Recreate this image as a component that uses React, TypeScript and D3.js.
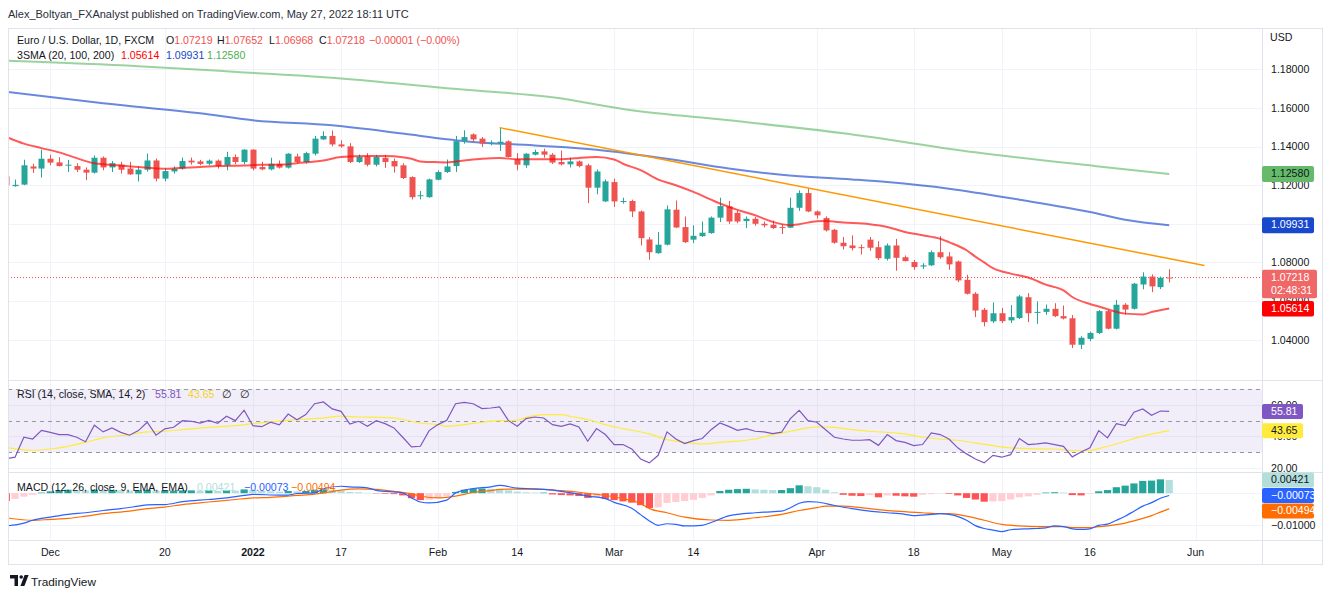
import React from "react";
import * as d3 from "d3";

// ---------- DATA ----------
const FIRST_T = -5; // bar index of first candle (0 = Dec 1, 2021)
const OPEN = [
  1.1246, 1.1195, 1.1203, 1.1297, 1.1286,
  1.1337, 1.1318, 1.1303, 1.1299, 1.1280, 1.1265, 1.1342, 1.1292, 1.1306, 1.1286,
  1.1256, 1.1280, 1.1328, 1.1234, 1.1271, 1.1286, 1.1327, 1.1323, 1.1311, 1.1327,
  1.1303, 1.1346, 1.1320, 1.1384, 1.1294, 1.1282, 1.1311, 1.1291, 1.1349, 1.1320,
  1.1363, 1.1437, 1.1455, 1.1411, 1.1401, 1.1320, 1.1349, 1.1306, 1.1342, 1.1325,
  1.1303, 1.1242, 1.1146, 1.1138, 1.1228, 1.1268, 1.1299, 1.1429, 1.1463, 1.1441,
  1.1415, 1.1415, 1.1427, 1.1334, 1.1303, 1.1358, 1.1375, 1.1358, 1.1320, 1.1308,
  1.1323, 1.1303, 1.1187, 1.1116, 1.1216, 1.1116, 1.1118, 1.1064, 1.0919, 1.0848,
  1.0892, 1.1073, 1.0983, 1.0918, 1.0936, 1.0952, 1.1032, 1.1090, 1.1057, 1.1014,
  1.1026, 1.1000, 1.0995, 1.0983, 1.0980, 1.1083, 1.1159, 1.1064, 1.1030, 1.0969,
  1.0902, 1.0888, 1.0879, 1.0918, 1.0879, 1.0819, 1.0888, 1.0827, 1.0802, 1.0779,
  1.0785, 1.0853, 1.0831, 1.0805, 1.0710, 1.0638, 1.0555, 1.0495, 1.0537, 1.0500,
  1.0512, 1.0620, 1.0540, 1.0544, 1.0560, 1.0522, 1.0511, 1.0374, 1.0404, 1.0435,
  1.0548, 1.0457, 1.0581, 1.0560, 1.0686, 1.0727, 1.0672, 1.07219,
];
const HIGH = [
  1.1252, 1.1229, 1.1332, 1.1311, 1.1384,
  1.1358, 1.1345, 1.1331, 1.1314, 1.1292, 1.1354, 1.1349, 1.1325, 1.1321, 1.1321,
  1.1297, 1.1364, 1.1338, 1.1287, 1.1297, 1.1343, 1.1343, 1.1331, 1.1333, 1.1333,
  1.1373, 1.1359, 1.1386, 1.1386, 1.1321, 1.1342, 1.1328, 1.1366, 1.1363, 1.1373,
  1.1455, 1.1479, 1.1484, 1.1432, 1.1418, 1.1359, 1.1366, 1.1357, 1.1357, 1.1338,
  1.1314, 1.1246, 1.1170, 1.1234, 1.1277, 1.1333, 1.1455, 1.1484, 1.1468, 1.1449,
  1.1432, 1.1498, 1.1432, 1.1366, 1.1366, 1.1384, 1.1389, 1.1366, 1.1379, 1.1344,
  1.1328, 1.1311, 1.1281, 1.1230, 1.1234, 1.1135, 1.1125, 1.1069, 1.0931, 1.0957,
  1.1095, 1.1121, 1.1038, 1.0992, 1.1012, 1.1038, 1.1135, 1.1118, 1.1069, 1.1038,
  1.1035, 1.1012, 1.1017, 1.0997, 1.1135, 1.1173, 1.1185, 1.1069, 1.1038, 1.0974,
  1.0932, 1.0940, 1.0893, 1.0932, 1.0910, 1.0898, 1.0922, 1.0836, 1.0813, 1.0796,
  1.0862, 1.0936, 1.0853, 1.0810, 1.0736, 1.0646, 1.0564, 1.0593, 1.0565, 1.0579,
  1.0632, 1.0641, 1.0598, 1.0582, 1.0589, 1.0577, 1.0528, 1.0418, 1.0442, 1.0553,
  1.0555, 1.0606, 1.0589, 1.0694, 1.0749, 1.0738, 1.0727, 1.07652,
];
const LOW = [
  1.1190, 1.1192, 1.1200, 1.1263, 1.1239,
  1.1303, 1.1297, 1.1268, 1.1268, 1.1226, 1.1260, 1.1277, 1.1268, 1.1260, 1.1254,
  1.1219, 1.1270, 1.1220, 1.1220, 1.1260, 1.1280, 1.1306, 1.1303, 1.1303, 1.1286,
  1.1277, 1.1308, 1.1308, 1.1277, 1.1277, 1.1277, 1.1286, 1.1286, 1.1312, 1.1312,
  1.1354, 1.1435, 1.1401, 1.1394, 1.1315, 1.1315, 1.1297, 1.1297, 1.1290, 1.1265,
  1.1232, 1.1126, 1.1126, 1.1135, 1.1225, 1.1263, 1.1268, 1.1415, 1.1422, 1.1398,
  1.1406, 1.1377, 1.1343, 1.1277, 1.1290, 1.1354, 1.1342, 1.1310, 1.1303, 1.1292,
  1.1292, 1.1107, 1.1153, 1.1113, 1.1087, 1.1104, 1.1035, 1.0888, 1.0814, 1.0845,
  1.0888, 1.0978, 1.0900, 1.0900, 1.0932, 1.0948, 1.1009, 1.1000, 1.1003, 1.0978,
  1.0990, 1.0981, 1.0974, 1.0947, 1.0978, 1.1067, 1.1060, 1.1027, 1.0960, 1.0897,
  1.0867, 1.0862, 1.0841, 1.0860, 1.0813, 1.0810, 1.0757, 1.0806, 1.0762, 1.0766,
  1.0781, 1.0819, 1.0762, 1.0698, 1.0634, 1.0517, 1.0469, 1.0486, 1.0486, 1.0487,
  1.0507, 1.0491, 1.0482, 1.0529, 1.0517, 1.0505, 1.0357, 1.0352, 1.0392, 1.0430,
  1.0453, 1.0453, 1.0530, 1.0556, 1.0661, 1.0646, 1.0662, 1.06968,
];
const CLOSE = [
  1.1199, 1.1202, 1.1303, 1.1286, 1.1337,
  1.1317, 1.1299, 1.1306, 1.1280, 1.1265, 1.1342, 1.1292, 1.1314, 1.1280, 1.1256,
  1.1280, 1.1328, 1.1234, 1.1273, 1.1285, 1.1325, 1.1318, 1.1310, 1.1327, 1.1299,
  1.1346, 1.1320, 1.1384, 1.1286, 1.1282, 1.1311, 1.1291, 1.1363, 1.1320, 1.1366,
  1.1441, 1.1455, 1.1411, 1.1401, 1.1320, 1.1346, 1.1306, 1.1346, 1.1320, 1.1297,
  1.1237, 1.1138, 1.1148, 1.1230, 1.1268, 1.1297, 1.1428, 1.1449, 1.1437, 1.1415,
  1.1420, 1.1425, 1.1346, 1.1306, 1.1363, 1.1372, 1.1358, 1.1317, 1.1308, 1.1323,
  1.1299, 1.1187, 1.1271, 1.1220, 1.1116, 1.1118, 1.1064, 1.0926, 1.0853, 1.0892,
  1.1075, 1.0981, 1.0905, 1.0938, 1.0954, 1.1032, 1.1092, 1.1012, 1.1012, 1.1026,
  1.1000, 1.0992, 1.0978, 1.0978, 1.1083, 1.1159, 1.1064, 1.1044, 1.0966, 1.0902,
  1.0884, 1.0874, 1.0876, 1.0876, 1.0822, 1.0888, 1.0824, 1.0807, 1.0776, 1.0785,
  1.0853, 1.0827, 1.0790, 1.0707, 1.0638, 1.0551, 1.0491, 1.0537, 1.0496, 1.0517,
  1.0624, 1.0537, 1.0544, 1.0560, 1.0522, 1.0510, 1.0374, 1.0410, 1.0435, 1.0548,
  1.0457, 1.0581, 1.0556, 1.0690, 1.0727, 1.0676, 1.0721, 1.07218,
];

// moving averages: [bar index, value]
const SMA20_PTS: [number, number][] = [
  [-5, 1.1450], [-3, 1.1415], [-1, 1.1392], [1, 1.1370], [3, 1.1340], [5, 1.1313],
  [8, 1.1302], [10, 1.1294], [13, 1.1285], [15, 1.1290], [17, 1.1294], [19, 1.1299],
  [22, 1.1302], [24, 1.1306], [26, 1.1306], [28, 1.1314], [31, 1.1328], [33, 1.1346],
  [36, 1.1351], [38, 1.1351], [40, 1.1345], [41, 1.1337], [42, 1.1323], [44, 1.1319],
  [45, 1.1318], [47, 1.1328], [49, 1.1337], [51, 1.1341], [53, 1.1334], [57, 1.1334],
  [59, 1.1337], [60, 1.1341], [62, 1.1346], [64, 1.1333], [65, 1.1311], [67, 1.1278],
  [69, 1.1229], [71, 1.1200], [73, 1.1165], [75, 1.1125], [76, 1.1105], [78, 1.1072],
  [80, 1.1044], [82, 1.1010], [84, 1.0993], [85, 1.0998], [87, 1.1013], [88, 1.1014],
  [90, 1.1007], [93, 1.0998], [95, 1.0984], [97, 1.0958], [99, 1.0941], [101, 1.0923],
  [102, 1.0905], [104, 1.0863], [105, 1.0830], [106, 1.0800], [107, 1.0770], [109, 1.0742],
  [111, 1.0722], [113, 1.0685], [115, 1.0655], [116, 1.0621], [118, 1.0585], [119, 1.0572],
  [120, 1.0558], [122, 1.0535], [124, 1.0531], [125, 1.0543], [127, 1.05614],
];
const SMA100_PTS: [number, number][] = [
  [-5, 1.1683], [6, 1.1624], [17, 1.1572], [23, 1.1536], [32, 1.1510], [40, 1.1467],
  [45, 1.1438], [47, 1.1428], [55, 1.1406], [62, 1.1384], [70, 1.1337], [77, 1.1286],
  [83, 1.1254], [91, 1.1230], [95, 1.1216], [102, 1.1182], [110, 1.1125], [118, 1.1061],
  [122, 1.1021], [127, 1.09931],
];
const SMA200_PTS: [number, number][] = [
  [-5, 1.1844], [10, 1.1816], [22, 1.1784], [33, 1.1753], [45, 1.1702], [57, 1.1655],
  [66, 1.1588], [77, 1.1536], [90, 1.1469], [105, 1.1370], [119, 1.1297], [127, 1.12580],
];
const TREND_PTS: [number, number][] = [[51, 1.1498], [131, 1.0784]];

// RSI per bar, from bar -5
const RSI_FIRST_T = -5;
const RSI = [
  26.0, 26.9, 39.5, 38.4, 43.9, 42.6, 41.2, 41.2, 39.5, 36.7,
  47.1, 42.9, 45.4, 42.6, 40.8, 43.7, 49.0, 40.8, 44.8, 45.8,
  50.0, 49.6, 48.5, 50.2, 48.3, 52.8, 50.0, 56.6, 46.8, 46.2,
  49.0, 47.3, 54.2, 50.6, 53.8, 60.7, 61.8, 57.4, 55.9, 47.9,
  49.6, 46.5, 50.0, 48.1, 45.4, 39.5, 33.4, 33.8, 43.7, 47.5,
  50.2, 60.7, 61.6, 60.7, 57.6, 58.0, 58.7, 50.0, 46.5,
  51.3, 52.3, 51.7, 47.5, 46.4, 47.9, 46.0, 37.0, 45.0, 41.2,
  34.9, 34.9, 32.1, 25.8, 23.3, 28.1, 42.9, 38.4, 35.5, 37.4,
  38.7, 44.3, 48.5, 46.4, 43.9, 45.0, 43.3, 42.9, 41.8, 42.7,
  51.3, 56.5, 50.0, 49.0, 44.3, 39.5, 38.4, 37.6, 37.6, 38.0,
  34.4, 41.2, 37.4, 36.3, 34.2, 34.9, 42.2, 41.2, 38.4, 32.8,
  29.0, 25.8, 23.3, 28.1, 26.9, 28.5, 38.7, 34.9, 35.3,
  35.9, 34.9, 33.8, 27.1, 30.2, 32.8, 43.7, 39.1, 48.1, 46.9, 55.3, 57.4, 53.4, 56.1, 55.81,
];
const RSI_SMA_PTS: [number, number][] = [
  [-5, 33.2], [-2, 31.3], [0, 32.1], [2, 33.8], [4, 36.3], [6, 39.1], [9, 41.2], [11, 42.9],
  [13, 43.3], [15, 44.3], [18, 45.8], [21, 46.8], [23, 48.1], [25, 49.2], [28, 50.7], [31, 51.7],
  [33, 52.8], [35, 52.3], [37, 52.1], [39, 51.7], [40, 50.7], [42, 48.5], [44, 47.5], [45, 46.4],
  [47, 47.5], [49, 49.0], [51, 50.0], [53, 50.2], [54, 52.1], [56, 53.8], [58, 53.8], [59, 52.8],
  [61, 50.7], [63, 47.5], [65, 45.0], [68, 41.6], [70, 38.0], [72, 36.3], [74, 35.3], [76, 36.3],
  [78, 37.0], [80, 38.4], [82, 41.2], [84, 43.3], [86, 45.4], [87, 46.0], [89, 45.8], [91, 44.3],
  [93, 43.3], [96, 42.2], [97, 41.6], [99, 39.5], [101, 38.4], [103, 37.6], [105, 35.9], [107, 34.2],
  [109, 32.8], [111, 32.3], [114, 32.1], [116, 31.1], [118, 31.3], [120, 33.8], [122, 37.0],
  [124, 40.2], [127, 43.65],
];

// MACD
const MACD_PTS: [number, number][] = [
  [-5, -0.0104], [-3, -0.0095], [-2, -0.0086], [0, -0.0076], [2, -0.0067], [4, -0.0062],
  [6, -0.0055], [8, -0.0049], [10, -0.0041], [11, -0.0037], [13, -0.0036], [15, -0.0027],
  [18, -0.0020], [20, -0.0015], [22, -0.0007], [23, -0.0004], [26, -0.0006], [27, -0.0006],
  [28, -0.0001], [30, 0.0001], [31, 0.0014], [33, 0.0022], [34, 0.0020], [36, 0.0017],
  [37, 0.0009], [40, 0.0001], [41, -0.0015], [42, -0.0028], [43, -0.0031], [45, -0.0022],
  [46, 0.0001], [48, 0.0015], [50, 0.0020], [51, 0.0025], [53, 0.0016], [55, 0.0014],
  [56, 0.0012], [58, 0.0006], [59, 0.0002], [61, -0.0009], [63, -0.0017], [64, -0.0029],
  [66, -0.0048], [67, -0.0068], [68, -0.0088], [69, -0.0102], [70, -0.0097], [71, -0.0099],
  [72, -0.0104], [74, -0.0102], [75, -0.0093], [77, -0.0072], [78, -0.0067], [80, -0.0062],
  [81, -0.0060], [83, -0.0057], [84, -0.0046], [85, -0.0032], [86, -0.0027], [87, -0.0028],
  [89, -0.0039], [91, -0.0049], [93, -0.0057], [95, -0.0062], [97, -0.0067], [98, -0.0071],
  [100, -0.0067], [101, -0.0065], [102, -0.0067], [104, -0.0086], [105, -0.0103], [106, -0.0112],
  [107, -0.0117], [108, -0.0122], [109, -0.0116], [111, -0.0113], [112, -0.0112], [113, -0.0110],
  [114, -0.0104], [115, -0.0106], [116, -0.0113], [117, -0.0115], [118, -0.0113], [119, -0.0102],
  [120, -0.0098], [121, -0.0086], [122, -0.0073], [123, -0.0057], [124, -0.0041], [125, -0.0030],
  [126, -0.0016], [127, -0.00073],
];
const SIGNAL_PTS: [number, number][] = [
  [-5, -0.0078], [-2, -0.0086], [0, -0.0083], [2, -0.0080], [4, -0.0073], [6, -0.0065],
  [9, -0.0057], [11, -0.0049], [13, -0.0044], [15, -0.0036], [18, -0.0028], [21, -0.0020],
  [23, -0.0015], [25, -0.0013], [28, -0.0007], [30, -0.0003], [32, 0.0005], [33, 0.0010],
  [35, 0.0014], [37, 0.0012], [39, 0.0006], [41, -0.0002], [42, -0.0009], [44, -0.0015],
  [45, -0.0013], [47, -0.0004], [48, 0.0003], [50, 0.0008], [51, 0.0012], [53, 0.0013],
  [56, 0.0012], [58, 0.0008], [60, 0.0003], [62, -0.0004], [65, -0.0017], [67, -0.0033],
  [68, -0.0049], [70, -0.0062], [72, -0.0076], [75, -0.0085], [77, -0.0086], [80, -0.0078],
  [83, -0.0067], [85, -0.0055], [87, -0.0046], [88, -0.0041], [90, -0.0041], [92, -0.0046],
  [94, -0.0052], [96, -0.0057], [99, -0.0062], [101, -0.0065], [102, -0.0065], [104, -0.0073],
  [106, -0.0086], [108, -0.0099], [110, -0.0104], [112, -0.0106], [115, -0.0106], [116, -0.0109],
  [118, -0.0109], [119, -0.0106], [120, -0.0104], [121, -0.0100], [122, -0.0095], [123, -0.0088],
  [124, -0.0080], [125, -0.0071], [126, -0.0060], [127, -0.00494],
];
const HIST_FIRST_T = -6;
const HIST = [
  -0.0022, -0.0025, -0.0018, -0.0011, -0.0005, 0.0002,
  0.0006, 0.0009, 0.0011, 0.0010, 0.0009, 0.0011, 0.0010, 0.0010, 0.0009, 0.0008,
  0.0009, 0.0011, 0.0008, 0.0008, 0.0008, 0.0009, 0.0009, 0.0008, 0.0009, 0.0007,
  0.0009, 0.0008, 0.0012, 0.0010, 0.0007, 0.0006, 0.0005, 0.0007, 0.0006, 0.0007,
  0.0011, 0.0012, 0.0010, 0.0008, 0.0004, 0.0003, 0.0001, -0.0001, -0.0002, -0.0003,
  -0.0007, -0.0016, -0.0022, -0.0021, -0.0015, -0.0009, 0.0004, 0.0011, 0.0014, 0.0015,
  0.0014, 0.0013, 0.0009, 0.0005, 0.0003, 0.0002, 0.0002, -0.0004, -0.0006, -0.0007,
  -0.0009, -0.0015, -0.0012, -0.0018, -0.0022, -0.0026, -0.0030, -0.0038, -0.0047, -0.0045,
  -0.0031, -0.0028, -0.0025, -0.0021, -0.0015, -0.0007, 0.0007, 0.0011, 0.0013, 0.0014,
  0.0012, 0.0011, 0.0010, 0.0010, 0.0016, 0.0025, 0.0022, 0.0019, 0.0011, 0.0003,
  -0.0005, -0.0008, -0.0009, -0.0006, -0.0013, -0.0007, -0.0008, -0.0010, -0.0011, -0.0005,
  -0.0003, -0.0001, -0.0002, -0.0007, -0.0015, -0.0020, -0.0027, -0.0026, -0.0025, -0.0020,
  -0.0013, -0.0010, -0.0005, 0.0002, 0.0003, 0.0002, -0.0006, -0.0007, -0.0002, 0.0006,
  0.0010, 0.0019, 0.0024, 0.0031, 0.0039, 0.0040, 0.0044, 0.00421,
];

const TIME_TICKS = [
  { label: "Dec", t: 0 }, { label: "20", t: 13 }, { label: "2022", t: 23, bold: true },
  { label: "17", t: 33 }, { label: "Feb", t: 44 }, { label: "14", t: 53 },
  { label: "Mar", t: 64 }, { label: "14", t: 73 }, { label: "Apr", t: 87 },
  { label: "18", t: 98 }, { label: "May", t: 108 }, { label: "16", t: 118 },
  { label: "Jun", t: 130 },
];
const PRICE_TICKS = [1.04, 1.06, 1.08, 1.10, 1.12, 1.14, 1.16, 1.18];
const RSI_GRID = [20, 40, 60];
const RSI_BANDS = [70, 50, 30];
const MACD_GRID = [0, -0.01];
const COUNTDOWN = "02:48:31";
const CHANGE_TEXT = "\u22120.00001 (\u22120.00%)";

// ---------- LAYOUT ----------
const L = 8, R = 1262, AR = 1322, TOP = 28, MAIN_B = 380, RSI_B = 472.3, MACD_B = 539.7, BOT = 564;
const FONT = "'Liberation Sans', Arial, sans-serif";
const FS = 10.6;
const TXT = "#131722";
const UP = "#26a69a", DOWN = "#ef5350";

const x = d3.scaleLinear().domain([0, 127]).range([50.3, 1169.2]);
const yP = d3.scaleLinear().domain([1.04, 1.18]).range([339.7, 69.3]);
const yR = d3.scaleLinear().domain([30, 70]).range([452.3, 389]);
const yM = d3.scaleLinear().domain([-0.01, 0]).range([524.7, 493.2]);

const fmt = (v: number, d = 5) => v.toFixed(d).replace("-", "\u2212");

function AxisBox({ y, h, w, bg, color, lines }: { y: number; h: number; w: number; bg: string; color: string; lines: string[] }) {
  return (
    <g>
      <rect x={R} y={y} width={w} height={h} rx={2} fill={bg} />
      {lines.map((s, i) => (
        <text key={i} x={1271} y={y + 11 + i * 13} fontSize={FS} fill={color} fontFamily={FONT}>{s}</text>
      ))}
    </g>
  );
}

export default function App() {
  const n = OPEN.length;
  const lineP = d3.line<[number, number]>().x((d) => x(d[0])).y((d) => yP(d[1])).curve(d3.curveMonotoneX);
  const lineR = d3.line<[number, number]>().x((d) => x(d[0])).y((d) => yR(d[1]));
  const lineRs = d3.line<[number, number]>().x((d) => x(d[0])).y((d) => yR(d[1])).curve(d3.curveMonotoneX);
  const lineM = d3.line<[number, number]>().x((d) => x(d[0])).y((d) => yM(d[1])).curve(d3.curveMonotoneX);
  const lineT = d3.line<[number, number]>().x((d) => x(d[0])).y((d) => yP(d[1]));

  const rsiPts: [number, number][] = RSI.map((v, i) => [RSI_FIRST_T + i, v]);
  const lastClose = CLOSE[n - 1];
  const lastOpen = OPEN[n - 1];
  const ohlcColor = lastClose >= lastOpen ? UP : DOWN;
  const sma20Last = SMA20_PTS[SMA20_PTS.length - 1][1];
  const sma100Last = SMA100_PTS[SMA100_PTS.length - 1][1];
  const sma200Last = SMA200_PTS[SMA200_PTS.length - 1][1];
  const rsiLast = RSI[RSI.length - 1];
  const rsiSmaLast = RSI_SMA_PTS[RSI_SMA_PTS.length - 1][1];
  const macdLast = MACD_PTS[MACD_PTS.length - 1][1];
  const sigLast = SIGNAL_PTS[SIGNAL_PTS.length - 1][1];
  const histLast = HIST[HIST.length - 1];

  // MACD axis labels with simple overlap resolution
  const macdLabels = [
    { v: histLast, bg: "#b2dfdb", color: TXT },
    { v: macdLast, bg: "#2962ff", color: "#fff" },
    { v: sigLast, bg: "#ff6d00", color: "#fff" },
  ].sort((a, b) => b.v - a.v);
  const BH = 15;
  let prevBottom = -Infinity;
  const macdBoxes = macdLabels.map((lb) => {
    let top = yM(lb.v) - BH / 2;
    if (top < prevBottom + 0.5) top = prevBottom + 0.5;
    prevBottom = top + BH;
    return { ...lb, top };
  });

  // tick labels that sit (almost) exactly under a value box are hidden, as in the axis
  const priceBoxCenters = [yP(sma200Last), yP(sma100Last), yP(lastClose) + 6, yP(sma20Last)];
  const macdBoxCenters = macdBoxes.map((b) => b.top + BH / 2);
  const hidden = (yy: number, centers: number[]) => centers.some((c) => Math.abs(c - yy) < 4);

  const bw = 6;
  return (
    <svg width={1332} height={597} style={{ position: "absolute", left: 0, top: 0, background: "#fff" }} fontFamily={FONT}>
      <defs>
        <clipPath id="cMain"><rect x={L} y={TOP} width={R - L} height={MAIN_B - TOP} /></clipPath>
        <clipPath id="cRsi"><rect x={L} y={MAIN_B} width={R - L} height={RSI_B - MAIN_B} /></clipPath>
        <clipPath id="cMacd"><rect x={L} y={RSI_B} width={R - L} height={MACD_B - RSI_B} /></clipPath>
      </defs>

      {/* header */}
      <text x={8} y={18} fontSize={FS + 0.4} fill="#2a2e39">Alex_Boltyan_FXAnalyst published on TradingView.com, May 27, 2022 18:11 UTC</text>

      {/* grid */}
      <g stroke="#f0f3fa" strokeWidth={1}>
        {TIME_TICKS.map((tk, i) => (
          <line key={i} x1={Math.round(x(tk.t)) + 0.5} x2={Math.round(x(tk.t)) + 0.5} y1={TOP} y2={MACD_B} />
        ))}
        {PRICE_TICKS.map((p, i) => (
          <line key={i} x1={L} x2={R} y1={Math.round(yP(p)) + 0.5} y2={Math.round(yP(p)) + 0.5} />
        ))}
        {RSI_GRID.map((v, i) => (
          <line key={i} x1={L} x2={R} y1={Math.round(yR(v)) + 0.5} y2={Math.round(yR(v)) + 0.5} />
        ))}
        {MACD_GRID.map((v, i) => (
          <line key={i} x1={L} x2={R} y1={Math.round(yM(v)) + 0.5} y2={Math.round(yM(v)) + 0.5} />
        ))}
      </g>

      {/* main pane */}
      <g clipPath="url(#cMain)">
        <path d={lineP(SMA200_PTS) || ""} fill="none" stroke="#66bb6a" strokeOpacity={0.65} strokeWidth={2} />
        <path d={lineP(SMA100_PTS) || ""} fill="none" stroke="#1848cc" strokeOpacity={0.65} strokeWidth={2} />
        <line x1={L} x2={R} y1={yP(lastClose)} y2={yP(lastClose)} stroke={DOWN} strokeWidth={1} strokeDasharray="1 2" />
        {OPEN.map((o, i) => {
          const t = FIRST_T + i;
          const c = CLOSE[i];
          const col = c >= o ? UP : DOWN;
          const cx = Math.round(x(t));
          const top = yP(Math.max(o, c));
          const bot = yP(Math.min(o, c));
          return (
            <g key={i}>
              <line x1={cx + 0.5} x2={cx + 0.5} y1={yP(HIGH[i])} y2={yP(LOW[i])} stroke={col} strokeWidth={1} />
              <rect x={cx - bw / 2 + 0.5} y={top} width={bw} height={Math.max(1, bot - top)} fill={col} />
            </g>
          );
        })}
        <path d={lineP(SMA20_PTS) || ""} fill="none" stroke="#ff0000" strokeOpacity={0.65} strokeWidth={2} />
        <path d={lineT(TREND_PTS) || ""} fill="none" stroke="#ff9800" strokeWidth={1.5} />
      </g>

      {/* main legend */}
      <g fontSize={FS} fill={TXT}>
        <text x={17} y={44}>Euro / U.S. Dollar, 1D, FXCM</text>
        <text x={166} y={44}>O<tspan fill={ohlcColor}>{fmt(OPEN[n - 1])}</tspan></text>
        <text x={217} y={44}>H<tspan fill={ohlcColor}>{fmt(HIGH[n - 1])}</tspan></text>
        <text x={269} y={44}>L<tspan fill={ohlcColor}>{fmt(LOW[n - 1])}</tspan></text>
        <text x={319} y={44}>C<tspan fill={ohlcColor}>{fmt(lastClose)}</tspan></text>
        <text x={369} y={44} fill={ohlcColor}>{CHANGE_TEXT}</text>
        <text x={17} y={59}>3SMA (20, 100, 200)</text>
        <text x={121} y={59} fill="#ff0000">{fmt(sma20Last)}</text>
        <text x={166} y={59} fill="#1848cc">{fmt(sma100Last)}</text>
        <text x={207} y={59} fill="#4caf50">{fmt(sma200Last)}</text>
      </g>

      {/* RSI pane */}
      <rect x={L} y={yR(70)} width={R - L} height={yR(30) - yR(70)} fill="#7e57c2" fillOpacity={0.1} />
      {RSI_BANDS.map((v, i) => (
        <line key={i} x1={L} x2={R} y1={Math.round(yR(v)) + 0.5} y2={Math.round(yR(v)) + 0.5} stroke="#9598a1" strokeDasharray="4 4" strokeWidth={1} />
      ))}
      <g clipPath="url(#cRsi)">
        <path d={lineRs(RSI_SMA_PTS) || ""} fill="none" stroke="#ffeb3b" strokeWidth={1.2} />
        <path d={lineR(rsiPts) || ""} fill="none" stroke="#7e57c2" strokeWidth={1.2} />
      </g>
      <g fontSize={FS} fill={TXT}>
        <text x={17} y={398}>RSI (14, close, SMA, 14, 2)</text>
        <text x={155} y={398} fill="#7e57c2">{rsiLast.toFixed(2)}</text>
        <text x={188} y={398} fill="#f5d327">{rsiSmaLast.toFixed(2)}</text>
        <text x={222} y={398}>{"\u2205"}</text>
        <text x={240} y={398}>{"\u2205"}</text>
      </g>

      {/* MACD pane */}
      <g clipPath="url(#cMacd)">
        {HIST.map((v, i) => {
          const t = HIST_FIRST_T + i;
          const prev = i > 0 ? HIST[i - 1] : v;
          let col;
          if (v >= 0) col = v >= prev ? "#26a69a" : "#b2dfdb";
          else col = v < prev ? "#ff5252" : "#ffcdd2";
          const y0 = yM(0), y1 = yM(v);
          return <rect key={i} x={x(t) - 3.6} y={Math.min(y0, y1)} width={7.2} height={Math.abs(y1 - y0)} fill={col} />;
        })}
        <path d={lineM(SIGNAL_PTS) || ""} fill="none" stroke="#ff6d00" strokeWidth={1.2} />
        <path d={lineM(MACD_PTS) || ""} fill="none" stroke="#2962ff" strokeWidth={1.2} />
      </g>
      <g fontSize={FS} fill={TXT}>
        <text x={17} y={491}>MACD (12, 26, close, 9, EMA, EMA)</text>
        <text x={197} y={491} fill="#b2dfdb">{fmt(histLast)}</text>
        <text x={244} y={491} fill="#2962ff">{fmt(macdLast)}</text>
        <text x={291} y={491} fill="#ff6d00">{fmt(sigLast)}</text>
      </g>

      {/* pane borders */}
      <g stroke="#e0e3eb" strokeWidth={1} fill="none">
        <rect x={L + 0.5} y={TOP + 0.5} width={AR - L} height={BOT - TOP} />
        <line x1={L} x2={AR} y1={MAIN_B + 0.5} y2={MAIN_B + 0.5} />
        <line x1={L} x2={AR} y1={Math.round(RSI_B) + 0.5} y2={Math.round(RSI_B) + 0.5} />
        <line x1={L} x2={AR} y1={Math.round(MACD_B) + 0.5} y2={Math.round(MACD_B) + 0.5} />
        <line x1={R + 0.5} x2={R + 0.5} y1={TOP} y2={BOT} />
      </g>

      {/* price axis */}
      <g fontSize={FS} fill={TXT}>
        <text x={1270} y={41}>USD</text>
        {PRICE_TICKS.filter((p) => !hidden(yP(p), priceBoxCenters)).map((p, i) => (
          <text key={i} x={1271} y={yP(p) + 3.8}>{fmt(p)}</text>
        ))}
        {RSI_GRID.map((v, i) => (
          <text key={i} x={1271} y={yR(v) + 3.8}>{v.toFixed(2)}</text>
        ))}
        {MACD_GRID.filter((v) => !hidden(yM(v), macdBoxCenters)).map((v, i) => (
          <text key={i} x={1271} y={yM(v) + 3.8}>{fmt(v)}</text>
        ))}
      </g>
      <AxisBox y={yP(sma200Last) - 8} h={16} w={52} bg="#66bb6a" color={TXT} lines={[fmt(sma200Last)]} />
      <AxisBox y={yP(sma100Last) - 8} h={16} w={52} bg="#1848cc" color="#fff" lines={[fmt(sma100Last)]} />
      <AxisBox y={yP(lastClose) - 7.7} h={28.5} w={55} bg="#f06767" color="#fff" lines={[fmt(lastClose), COUNTDOWN]} />
      <AxisBox y={yP(sma20Last) - 7.5} h={15.5} w={52} bg="#ff0000" color="#fff" lines={[fmt(sma20Last)]} />
      <AxisBox y={yR(rsiLast) - 7.5} h={15} w={41} bg="#7e57c2" color="#fff" lines={[rsiLast.toFixed(2)]} />
      <AxisBox y={yR(rsiSmaLast) - 7.5} h={15} w={41} bg="#ffeb3b" color={TXT} lines={[rsiSmaLast.toFixed(2)]} />
      {macdBoxes.map((b, i) => (
        <AxisBox key={i} y={b.top} h={BH} w={52} bg={b.bg} color={b.color} lines={[fmt(b.v)]} />
      ))}

      {/* time axis */}
      <g fontSize={FS} fill={TXT} textAnchor="middle">
        {TIME_TICKS.map((tk, i) => (
          <text key={i} x={x(tk.t)} y={556} fontWeight={tk.bold ? "bold" : "normal"}>{tk.label}</text>
        ))}
      </g>

      {/* TradingView logo */}
      <g fill="#131722">
        <path d="M10,575 H18 V586 H14.5 V578.5 H10 Z" />
        <circle cx={21.2} cy={577} r={1.8} />
        <path d="M24.6,575 H28.6 L24.4,586 H20.4 Z" />
        <text x={31} y={585.5} fontSize={11.8}>TradingView</text>
      </g>
    </svg>
  );
}
